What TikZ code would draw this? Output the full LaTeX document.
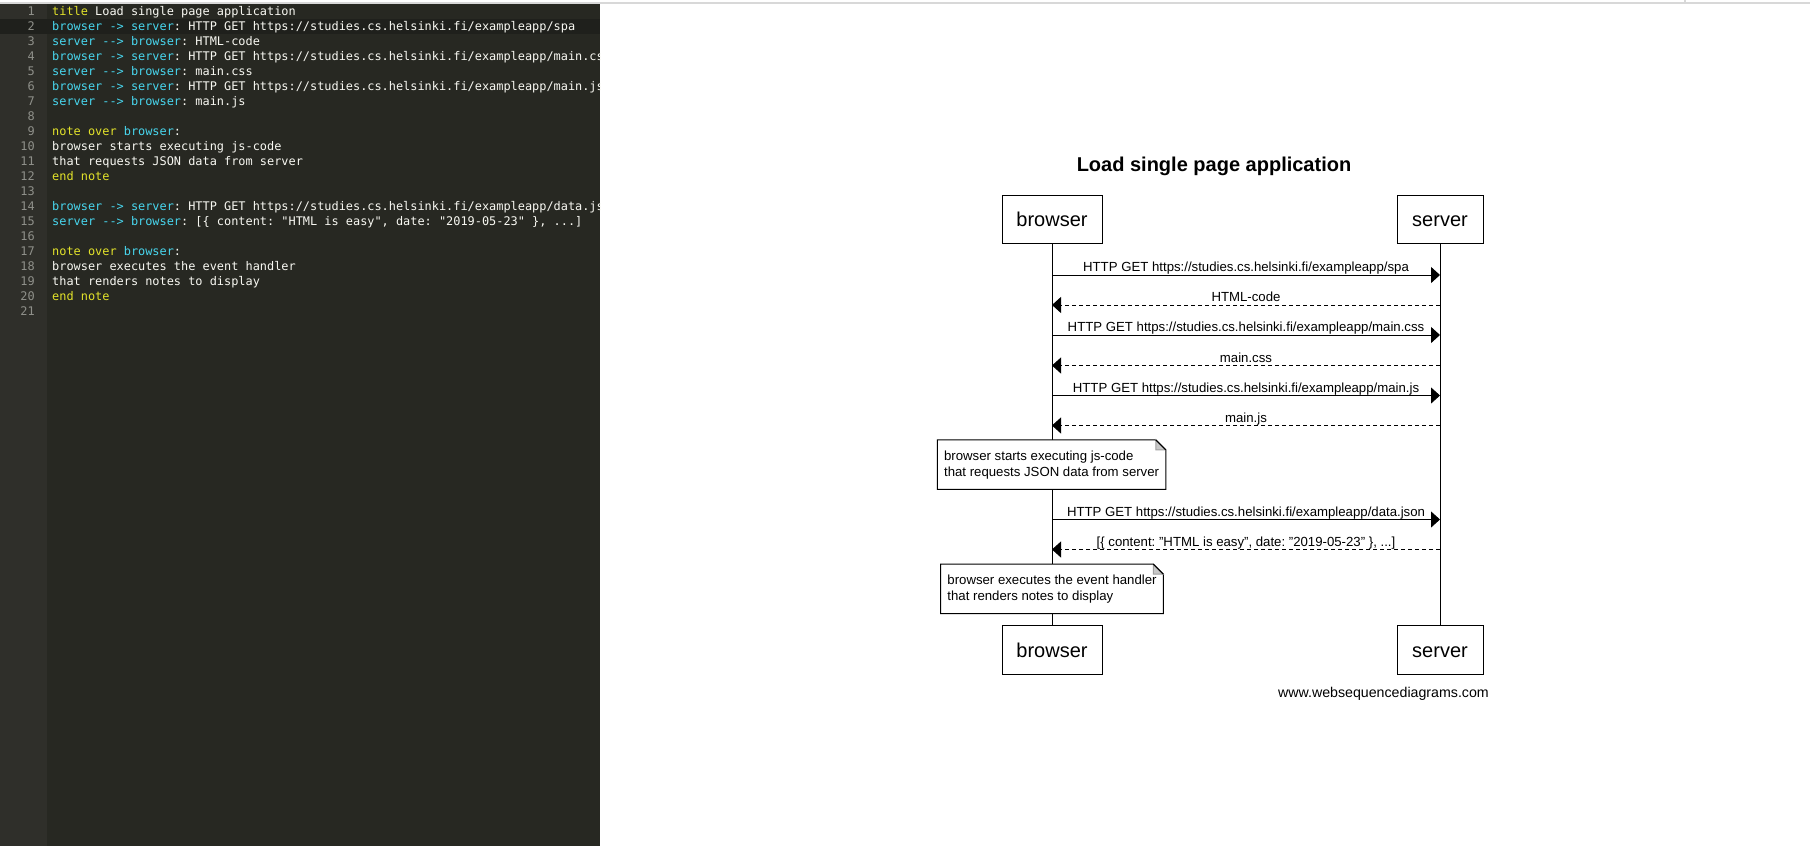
\documentclass[tikz,border=0pt]{standalone}
\usepackage{fontspec}
\setmainfont{Liberation Sans}
\newfontfamily\edfont{DejaVu Sans Mono}
\usetikzlibrary{arrows.meta}
\definecolor{edbg}{HTML}{272822}
\definecolor{edgut}{HTML}{2F2F2A}
\definecolor{edhl}{HTML}{1F201C}
\definecolor{ednum}{HTML}{8F908A}
\definecolor{edwhite}{HTML}{F8F8F2}
\definecolor{edyel}{HTML}{E2E22A}
\definecolor{edcyan}{HTML}{48D6EE}
\definecolor{topline}{HTML}{D8D8D8}
\definecolor{foldgray}{HTML}{C8C8C8}
\newcommand\ecy[1]{\textcolor{edcyan}{#1}}
\newcommand\eye[1]{\textcolor{edyel}{#1}}
\newcommand\dda{-\kern0pt-\kern0pt>}
\newcommand\sda{-\kern0pt>}
\begin{document}
\frenchspacing
\begin{tikzpicture}[x=1pt,y=-1pt,
  edtxt/.style={anchor=base west, inner sep=0pt, font=\edfont\fontsize{11.9}{15}\selectfont\frenchspacing, text=edwhite},
  lnum/.style={anchor=base east, inner sep=0pt, font=\edfont\fontsize{11.9}{15}\selectfont, text=ednum},
  actor/.style={draw=black, line width=1pt, fill=white, minimum height=48.5pt, inner sep=0pt, text height=14.5pt, text depth=0pt, font=\fontsize{20}{24}\selectfont},
  life/.style={line width=1pt, draw=black},
  req/.style={line width=1pt, -{Triangle[length=9pt,width=16pt]}},
  resp/.style={line width=1pt, dash pattern=on 4pt off 3pt, -{Triangle[length=9pt,width=16pt]}},
  lbl/.style={anchor=base, inner sep=0pt, font=\fontsize{13.2}{16}\selectfont\frenchspacing, yshift=3.5pt},
  notetext/.style={align=left, inner xsep=6.5pt, inner ysep=0pt, minimum height=49pt, font=\fontsize{13.2}{16}\selectfont},
  notebox/.style={draw=black, line width=1pt, fill=white},
  fold/.style={draw=foldgray!80!black, line width=1pt, fill=foldgray}
]
\useasboundingbox (0,0) rectangle (1810,846);
\fill[white] (0,0) rectangle (1810,846);
% ---------- editor ----------
\fill[edbg] (0,4) rectangle (600,846);
\fill[edgut] (0,4) rectangle (47,846);
\fill[edhl] (0,19) rectangle (600,34);
\draw[topline, line width=1.2pt] (0,3) -- (1810,3);
\draw[topline, line width=2pt] (1685,0) -- (1685,3);
\foreach \n in {1,...,21} \node[lnum] (ln\n) at (35,{15.7+15*(\n-1)}) {\n};
\begin{scope}
\clip (47,4) rectangle (600,846);
\node[edtxt] (t1) at (52,15.7) {\eye{title} Load single page application};
\node[edtxt] (t2) at (52,30.7) {\ecy{browser \sda{} server}: HTTP GET https://studies.cs.helsinki.fi/exampleapp/spa};
\node[edtxt] (t3) at (52,45.7) {\ecy{server \dda{} browser}: HTML-code};
\node[edtxt] (t4) at (52,60.7) {\ecy{browser \sda{} server}: HTTP GET https://studies.cs.helsinki.fi/exampleapp/main.css};
\node[edtxt] (t5) at (52,75.7) {\ecy{server \dda{} browser}: main.css};
\node[edtxt] (t6) at (52,90.7) {\ecy{browser \sda{} server}: HTTP GET https://studies.cs.helsinki.fi/exampleapp/main.js};
\node[edtxt] (t7) at (52,105.7) {\ecy{server \dda{} browser}: main.js};
\node[edtxt] (t9) at (52,135.7) {\eye{note over} \ecy{browser}:};
\node[edtxt] (t10) at (52,150.7) {browser starts executing js-code};
\node[edtxt] (t11) at (52,165.7) {that requests JSON data from server};
\node[edtxt] (t12) at (52,180.7) {\eye{end note}};
\node[edtxt] (t14) at (52,210.7) {\ecy{browser \sda{} server}: HTTP GET https://studies.cs.helsinki.fi/exampleapp/data.json};
\node[edtxt] (t15) at (52,225.7) {\ecy{server \dda{} browser}: [\{ content: "HTML is easy", date: "2019-05-23" \}, ...]};
\node[edtxt] (t17) at (52,255.7) {\eye{note over} \ecy{browser}:};
\node[edtxt] (t18) at (52,270.7) {browser executes the event handler};
\node[edtxt] (t19) at (52,285.7) {that renders notes to display};
\node[edtxt] (t20) at (52,300.7) {\eye{end note}};
\end{scope}
% ---------- diagram ----------
\node[anchor=base, inner sep=0pt, font=\bfseries\fontsize{20}{24}\selectfont] (title) at (1214,171) {Load single page application};
\node[actor, minimum width=100pt] (bt) at (1052,219.3) {browser};
\node[actor, minimum width=86pt] (st) at (1440,219.3) {server};
\node[actor, minimum width=100pt] (bb) at (1052,650) {browser};
\node[actor, minimum width=86pt] (sb) at (1440,650) {server};
\draw[life] (bt.south) -- (bb.north);
\draw[life] (st.south) -- (sb.north);
\foreach \i/\y in {1/275,2/305,3/335,4/365.5,5/395.5,6/425.5,7/519.5,8/549.5}{
  \coordinate (b\i) at (1052,\y);
  \coordinate (s\i) at (1440,\y);
}
\draw[req] (b1) -- (s1) node[lbl, midway] (m1) {HTTP GET https://studies.cs.helsinki.fi/exampleapp/spa};
\draw[resp] (s2) -- (b2) node[lbl, midway] (m2) {HTML-code};
\draw[req] (b3) -- (s3) node[lbl, midway] (m3) {HTTP GET https://studies.cs.helsinki.fi/exampleapp/main.css};
\draw[resp] (s4) -- (b4) node[lbl, midway] (m4) {main.css};
\draw[req] (b5) -- (s5) node[lbl, midway] (m5) {HTTP GET https://studies.cs.helsinki.fi/exampleapp/main.js};
\draw[resp] (s6) -- (b6) node[lbl, midway] (m6) {main.js};
\draw[req] (b7) -- (s7) node[lbl, midway] (m7) {HTTP GET https://studies.cs.helsinki.fi/exampleapp/data.json};
\draw[resp] (s8) -- (b8) node[lbl, midway] (m8) {[\{ content: "HTML is easy", date: "2019-05-23" \}, ...]};
% notes
\node[notetext] (n1) at (1051.6,464.6) {browser starts executing js-code\\that requests JSON data from server};
\draw[notebox] (n1.north west) -- ([xshift=-10pt]n1.north east) -- ([yshift=-10pt]n1.north east) -- (n1.south east) -- (n1.south west) -- cycle;
\draw[fold] ([xshift=-10pt]n1.north east) -- ([xshift=-10pt,yshift=-10pt]n1.north east) -- ([yshift=-10pt]n1.north east) -- cycle;
\draw[line width=1pt] ([xshift=-10pt]n1.north east) -- ([yshift=-10pt]n1.north east);
\node[notetext] at (n1) {browser starts executing js-code\\that requests JSON data from server};
\node[notetext] (n2) at (1052,588.8) {browser executes the event handler\\that renders notes to display};
\draw[notebox] (n2.north west) -- ([xshift=-10pt]n2.north east) -- ([yshift=-10pt]n2.north east) -- (n2.south east) -- (n2.south west) -- cycle;
\draw[fold] ([xshift=-10pt]n2.north east) -- ([xshift=-10pt,yshift=-10pt]n2.north east) -- ([yshift=-10pt]n2.north east) -- cycle;
\draw[line width=1pt] ([xshift=-10pt]n2.north east) -- ([yshift=-10pt]n2.north east);
\node[notetext] at (n2) {browser executes the event handler\\that renders notes to display};
\node[anchor=base east, inner sep=0pt, font=\fontsize{14.2}{17}\selectfont] (footer) at (1489,697.5) {www.websequencediagrams.com};
\end{tikzpicture}
\end{document}
